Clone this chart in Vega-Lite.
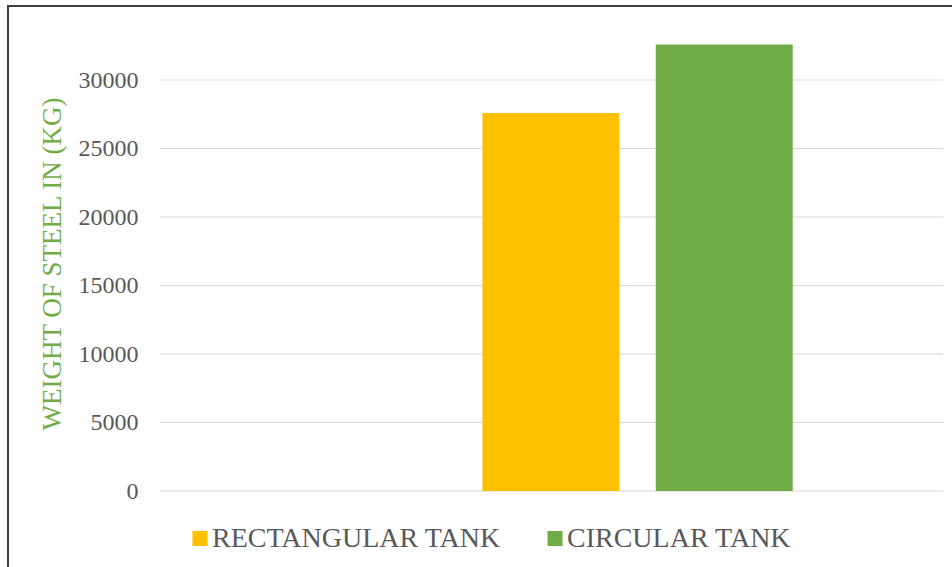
{
  "$schema": "https://vega.github.io/schema/vega-lite/v6.json",
  "autosize": {"type": "none"},
  "padding": {"left": 8, "top": 6, "right": 0, "bottom": 0},
  "width": 946,
  "height": 563,
  "background": "#ffffff",
  "config": {
    "font": "Liberation Serif",
    "view": {"stroke": "#404040", "strokeWidth": 2},
    "axisY": {
      "orient": "left",
      "offset": -152,
      "format": "d",
      "domain": false,
      "ticks": false,
      "grid": false,
      "labelFont": "Liberation Serif",
      "labelFontSize": 24,
      "labelColor": "#595959",
      "labelPadding": 22,
      "titleFont": "Liberation Serif",
      "titleFontSize": 27,
      "titleFontWeight": "normal",
      "titleColor": "#70AD47",
      "titlePadding": 12,
      "titleY": 257.5
    },
    "legend": {
      "labelFont": "Liberation Serif",
      "labelFontSize": 28,
      "labelColor": "#595959",
      "labelLimit": 0,
      "symbolType": "square",
      "symbolSize": 225,
      "symbolStrokeWidth": 0,
      "labelOffset": -2,
      "columnPadding": 40,
      "padding": 0
    }
  },
  "resolve": {"scale": {"x": "independent"}},
  "layer": [
    {
      "description": "Horizontal gridlines at each 5000 kg step",
      "data": {"values": [
        {"tick": 0}, {"tick": 5000}, {"tick": 10000}, {"tick": 15000},
        {"tick": 20000}, {"tick": 25000}, {"tick": 30000}
      ]},
      "mark": {"type": "rule", "color": "#d9d9d9", "strokeWidth": 1},
      "encoding": {
        "x": {"datum": 0, "type": "quantitative", "scale": {"domain": [0, 1], "range": [152, 935]}, "axis": null},
        "x2": {"datum": 1},
        "y": {
          "field": "tick", "type": "quantitative",
          "scale": {"domain": [0, 30000], "range": [485, 74], "nice": false},
          "title": "WEIGHT OF STEEL IN (KG)",
          "axis": {"values": [0, 5000, 10000, 15000, 20000, 25000, 30000]}
        }
      }
    },
    {
      "description": "Steel weight for each tank type",
      "data": {"values": [
        {"tank": "RECTANGULAR TANK", "weight": 27600},
        {"tank": "CIRCULAR TANK", "weight": 32600}
      ]},
      "mark": {"type": "bar"},
      "encoding": {
        "x": {
          "field": "tank", "type": "nominal",
          "scale": {
            "domain": ["RECTANGULAR TANK", "CIRCULAR TANK"],
            "range": [474.4, 784.7],
            "paddingInner": 0.21,
            "paddingOuter": 0
          },
          "axis": null
        },
        "y": {
          "field": "weight", "type": "quantitative",
          "scale": {"domain": [0, 30000], "range": [485, 74], "nice": false},
          "title": "WEIGHT OF STEEL IN (KG)",
          "axis": {"values": [0, 5000, 10000, 15000, 20000, 25000, 30000]}
        },
        "color": {
          "field": "tank", "type": "nominal",
          "scale": {
            "domain": ["RECTANGULAR TANK", "CIRCULAR TANK"],
            "range": ["#FFC000", "#70AD47"]
          },
          "legend": {
            "title": null,
            "orient": "none",
            "direction": "horizontal",
            "legendX": 178,
            "legendY": 518.5
          }
        }
      }
    }
  ]
}
